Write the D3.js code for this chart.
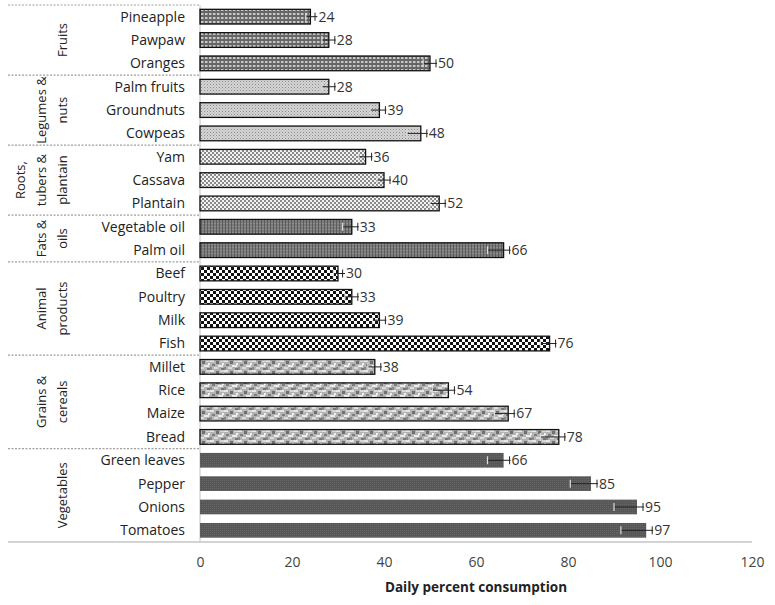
<!DOCTYPE html>
<html>
<head>
<meta charset="utf-8">
<script src="https://cdn.jsdelivr.net/npm/d3@7"></script>
<style>
  body { margin: 0; background: #fff; }
  text { font-family: "Open Sans", sans-serif; }
</style>
</head>
<body>
<svg width="775" height="605"></svg>
<script>
// data
const items = ["Pineapple", "Pawpaw", "Oranges", "Palm fruits", "Groundnuts", "Cowpeas",
  "Yam", "Cassava", "Plantain", "Vegetable oil", "Palm oil",
  "Beef", "Poultry", "Milk", "Fish", "Millet", "Rice", "Maize", "Bread",
  "Green leaves", "Pepper", "Onions", "Tomatoes"];
const values = [24, 28, 50, 28, 39, 48, 36, 40, 52, 33, 66, 30, 33, 39, 76, 38, 54, 67, 78, 66, 85, 95, 97];
const errors = [1, 1.5, 1.5, 1.5, 2, 3, 1.5, 1.5, 2, 2, 3.5, 1, 1.5, 1.5, 2, 1.5, 3.5, 3, 4, 3.5, 4.5, 5, 5.5];
const groupOf = [0, 0, 0, 1, 1, 1, 2, 2, 2, 3, 3, 4, 4, 4, 4, 5, 5, 5, 5, 6, 6, 6, 6];
const groupLabels = [["Fruits"], ["Legumes &", "nuts"], ["Roots,", "tubers &", "plantain"],
  ["Fats &", "oils"], ["Animal", "products"], ["Grains &", "cereals"], ["Vegetables"]];
const xTicks = [0, 20, 40, 60, 80, 100, 120];

const svg = d3.select("svg");
const plotLeft = 200, plotRight = 752, plotTop = 5, plotBottom = 542;
const labelGap = 8;

const x = d3.scaleLinear().domain([0, 120]).range([plotLeft, plotRight]);
const y = d3.scaleBand().domain(items).range([plotTop, plotBottom]).paddingInner(0.37).paddingOuter(0.185);
const step = y.step();

// patterns, one per group
const defs = svg.append("defs");
function pat(id, w, h, bg, draw) {
  const p = defs.append("pattern").attr("id", id).attr("patternUnits", "userSpaceOnUse")
    .attr("width", w).attr("height", h);
  p.append("rect").attr("width", w).attr("height", h).attr("fill", bg);
  draw(p);
}
pat("g0", 4, 4, "#666", p => {
  p.append("rect").attr("x", 1).attr("y", 1).attr("width", 2.5).attr("height", 2).attr("fill", "#c8c8c8");
});
pat("g1", 3, 3, "#d4d4d4", p => {
  p.append("rect").attr("x", 0).attr("y", 0).attr("width", 1).attr("height", 1).attr("fill", "#8c8c8c");
  p.append("rect").attr("x", 1.5).attr("y", 1.5).attr("width", 1).attr("height", 1).attr("fill", "#a8a8a8");
});
pat("g2", 4, 4, "#f2f2f2", p => {
  p.append("rect").attr("x", 0).attr("y", 0).attr("width", 2).attr("height", 2).attr("fill", "#8a8a8a");
  p.append("rect").attr("x", 2).attr("y", 2).attr("width", 2).attr("height", 2).attr("fill", "#8a8a8a");
});
pat("g3", 3, 3, "#7a7a7a", p => {
  p.append("rect").attr("x", 0).attr("y", 0).attr("width", 1).attr("height", 3).attr("fill", "#5c5c5c");
  p.append("rect").attr("x", 1).attr("y", 1).attr("width", 2).attr("height", 1).attr("fill", "#8e8e8e");
});
pat("g4", 6, 6, "#ffffff", p => {
  p.append("rect").attr("x", 0).attr("y", 0).attr("width", 3).attr("height", 3).attr("fill", "#111");
  p.append("rect").attr("x", 3).attr("y", 3).attr("width", 3).attr("height", 3).attr("fill", "#111");
});
pat("g5", 14, 10, "#b4b4b4", p => {
  const spots = [[0, 0, 4, 2, "#e6e6e6"], [6, 1, 3, 3, "#707070"], [10, 0, 4, 2, "#d6d6d6"],
    [2, 4, 3, 2, "#7e7e7e"], [8, 5, 5, 2, "#ececec"], [0, 7, 2, 3, "#8a8a8a"],
    [4, 7, 4, 2, "#dcdcdc"], [11, 8, 3, 2, "#767676"], [12, 3, 2, 2, "#f0f0f0"]];
  spots.forEach(s => p.append("rect").attr("x", s[0]).attr("y", s[1])
    .attr("width", s[2]).attr("height", s[3]).attr("fill", s[4]));
});
pat("g6", 2, 2, "#575757", p => {
  p.append("rect").attr("x", 0).attr("y", 0).attr("width", 1).attr("height", 1).attr("fill", "#666");
});

// group separators (category axis)
const bounds = [0];
groupOf.forEach((g, i) => { if (i > 0 && g !== groupOf[i - 1]) bounds.push(i); });
svg.selectAll("line.sep")
  .data(bounds)
  .enter().append("line")
  .attr("x1", 8).attr("x2", plotLeft)
  .attr("y1", i => plotTop + i * step).attr("y2", i => plotTop + i * step)
  .attr("stroke", "#a0a0a0").attr("stroke-width", 1.2)
  .attr("stroke-dasharray", "2,1.5");

// bottom axis line and category axis line
svg.append("line").attr("x1", 8).attr("x2", plotRight).attr("y1", plotBottom).attr("y2", plotBottom)
  .attr("stroke", "#c4c4c4").attr("stroke-width", 1.3);
svg.append("line").attr("x1", plotLeft).attr("x2", plotLeft).attr("y1", plotTop).attr("y2", plotBottom)
  .attr("stroke", "#c4c4c4").attr("stroke-width", 1);

// category labels
svg.selectAll("text.cat")
  .data(items)
  .enter().append("text")
  .attr("x", 185)
  .attr("y", d => y(d) + y.bandwidth() / 2)
  .attr("dy", "0.35em")
  .attr("text-anchor", "end")
  .attr("font-size", 14)
  .attr("fill", "#222")
  .text(d => d);

// group labels
groupLabels.forEach((lines, g) => {
  const idx = groupOf.map((v, i) => v === g ? i : -1).filter(i => i >= 0);
  const cy = plotTop + (idx[0] + idx[idx.length - 1] + 1) / 2 * step;
  lines.forEach((ln, k) => {
    const cx = 62 - (lines.length - 1 - k) * 21;
    svg.append("text")
      .attr("transform", `translate(${cx},${cy}) rotate(-90)`)
      .attr("text-anchor", "middle")
      .attr("dy", "0.35em")
      .attr("font-size", 13)
      .attr("fill", "#222")
      .text(ln);
  });
});

// bars
svg.selectAll("rect.bar")
  .data(items)
  .enter().append("rect")
  .attr("class", "bar")
  .attr("x", x(0))
  .attr("y", d => y(d))
  .attr("width", (d, i) => x(values[i]) - x(0))
  .attr("height", y.bandwidth())
  .attr("fill", (d, i) => `url(#g${groupOf[i]})`)
  .attr("stroke", (d, i) => groupOf[i] === 6 ? "none" : "#111")
  .attr("stroke-width", 1.3);

// error bars: minus cap inside the bar, the plus arm runs on to the label
const eb = svg.selectAll("g.err")
  .data(items)
  .enter().append("g")
  .attr("transform", d => `translate(0,${y(d) + y.bandwidth() / 2})`);
eb.append("line")
  .attr("x1", (d, i) => x(values[i] - errors[i]))
  .attr("x2", (d, i) => x(values[i]) + labelGap - 1)
  .attr("stroke", "#222").attr("stroke-width", 1);
eb.append("line")
  .attr("x1", (d, i) => x(values[i] - errors[i]))
  .attr("x2", (d, i) => x(values[i] - errors[i]))
  .attr("y1", -4).attr("y2", 4)
  .attr("stroke", "#ddd").attr("stroke-width", 1.2);
eb.append("line")
  .attr("x1", (d, i) => Math.min(x(values[i] + errors[i]), x(values[i]) + labelGap - 2))
  .attr("x2", (d, i) => Math.min(x(values[i] + errors[i]), x(values[i]) + labelGap - 2))
  .attr("y1", -4).attr("y2", 4)
  .attr("stroke", "#222").attr("stroke-width", 1);

// value labels
svg.selectAll("text.val")
  .data(items)
  .enter().append("text")
  .attr("x", (d, i) => x(values[i]) + labelGap)
  .attr("y", d => y(d) + y.bandwidth() / 2)
  .attr("dy", "0.35em")
  .attr("font-size", 14)
  .attr("fill", "#333")
  .text((d, i) => values[i]);

// x axis
const xAxis = svg.append("g")
  .attr("transform", `translate(0,${plotBottom})`)
  .call(d3.axisBottom(x).tickValues(xTicks).tickSize(0).tickPadding(15));
xAxis.select(".domain").remove();
xAxis.selectAll("text")
  .attr("font-family", "Open Sans, sans-serif")
  .attr("font-size", 14)
  .attr("fill", "#444");

// axis title
svg.append("text")
  .attr("x", (plotLeft + plotRight) / 2)
  .attr("y", 592)
  .attr("text-anchor", "middle")
  .attr("font-size", 13.5)
  .attr("font-weight", "bold")
  .attr("fill", "#222")
  .text("Daily percent consumption");
</script>
</body>
</html>
